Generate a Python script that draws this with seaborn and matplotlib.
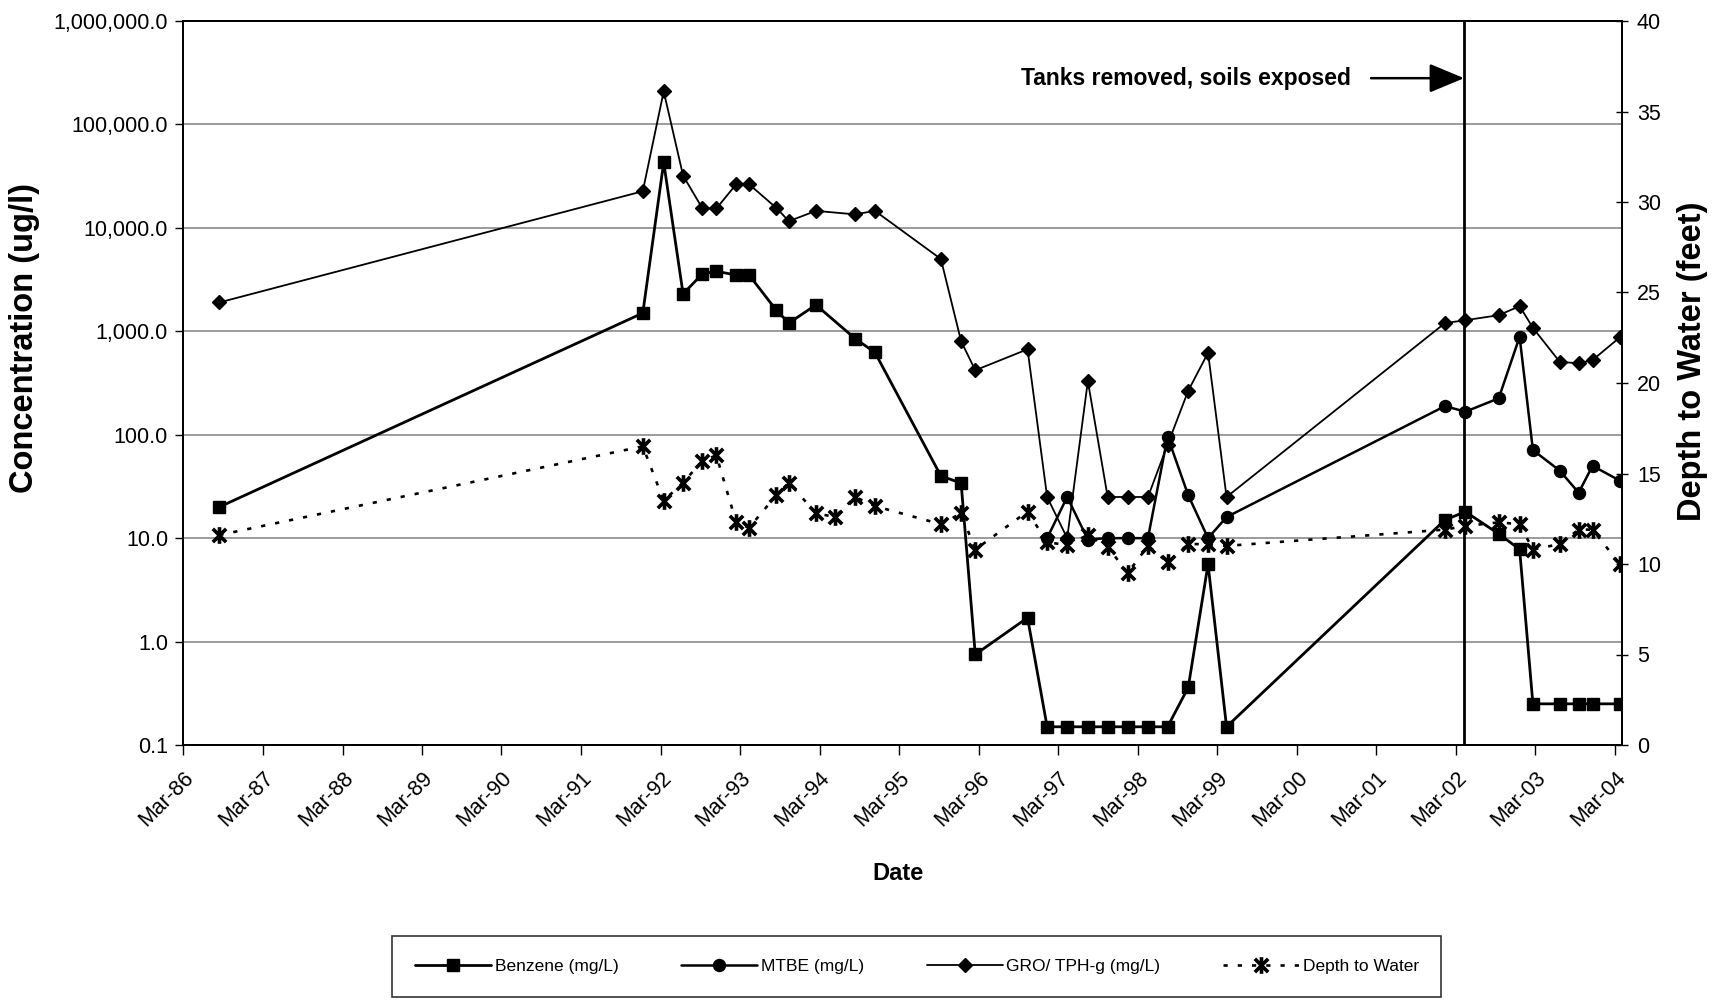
import numpy as np
import pandas as pd
import matplotlib
matplotlib.use("Agg")
import matplotlib.pyplot as plt
import matplotlib.dates as mdates
from matplotlib.ticker import FuncFormatter, FixedLocator, NullLocator
from matplotlib.path import Path
import seaborn as sns

# ---------------- data ----------------
sample_dates = [
    "1986-08-13", "1991-12-10", "1992-03-15", "1992-06-12", "1992-09-09", "1992-11-12",
    "1993-02-11", "1993-04-11", "1993-08-14", "1993-10-11", "1994-02-12", "1994-05-10",
    "1994-08-11", "1994-11-10", "1995-09-09", "1995-12-11", "1996-02-14", "1996-10-11",
    "1997-01-09", "1997-04-11", "1997-07-15", "1997-10-14", "1998-01-14", "1998-04-17",
    "1998-07-16", "1998-10-19", "1999-01-18", "1999-04-13", "2002-01-10", "2002-04-14",
    "2002-09-14", "2002-12-19", "2003-02-18", "2003-06-21", "2003-09-16", "2003-11-19",
    "2004-03-23",
]
nan = np.nan
benzene = [20, 1500, 43000, 2300, 3600, 3800,
           3500, 3500, 1600, 1200, 1800, nan,
           850, 625, 40, 34, 0.75, 1.7,
           0.15, 0.15, 0.15, 0.15, 0.15, 0.15,
           0.15, 0.36, 5.6, 0.15, 15, 18,
           11, 7.8, 0.25, 0.25, 0.25, 0.25,
           0.25]
mtbe = [nan, nan, nan, nan, nan, nan,
        nan, nan, nan, nan, nan, nan,
        nan, nan, nan, nan, nan, nan,
        10, 25, 9.7, 10, 10, 10,
        96, 26, 10, 16, 189, 167,
        225, 885, 71, 45, 27.5, 50,
        36]
gro = [1900, 22600, 209000, 32000, 15400, 15400,
       26400, 26400, 15600, 11600, 14600, nan,
       13500, 14600, 5000, 800, 420, 670,
       25, 10, 330, 25, 25, 25,
       80, 266, 620, 25, 1200, 1280,
       1430, 1750, 1080, 507, 490, 527,
       873]
depth = [11.6, 16.5, 13.5, 14.5, 15.7, 16.0,
         12.3, 12.0, 13.8, 14.5, 12.8, 12.6,
         13.7, 13.2, 12.2, 12.8, 10.8, 12.9,
         11.2, 11.05, 11.6, 10.95, 9.5, 11.0,
         10.1, 11.1, 11.1, 11.0, 11.9, 12.1,
         12.3, 12.2, 10.8, 11.1, 11.9, 11.9,
         10.0]

series_names = ["Benzene (mg/L)", "MTBE (mg/L)", "GRO/ TPH-g (mg/L)", "Depth to Water"]
conc_ticks = [0.1, 1, 10, 100, 1000, 10000, 100000, 1000000]
depth_ticks = [0, 5, 10, 15, 20, 25, 30, 35, 40]
tanks_removed_date = "2002-04-08"
annotation_text = "Tanks removed, soils exposed"
x_start, x_end = "1986-03-01", "2004-04-04"

# ---------------- styling ----------------
sns.set_style("white")
plt.rcParams["font.family"] = ["Liberation Sans", "DejaVu Sans"]
for k in ("text.color", "axes.labelcolor", "xtick.color", "ytick.color"):
    plt.rcParams[k] = "black"

df = pd.DataFrame({
    "date": pd.to_datetime(sample_dates),
    series_names[0]: benzene,
    series_names[1]: mtbe,
    series_names[2]: gro,
    series_names[3]: depth,
})

fig = plt.figure(figsize=(17.17, 10), dpi=100)
ax = fig.add_axes([0.1068, 0.255, 0.8381, 0.724])
ax2 = ax.twinx()

star = Path([(-1, -1), (1, 1), (-1, 1), (1, -1), (0, -1.25), (0, 1.25)],
            [Path.MOVETO, Path.LINETO, Path.MOVETO, Path.LINETO, Path.MOVETO, Path.LINETO])

styles = {
    series_names[0]: dict(marker="s", markersize=11.5, linewidth=2.0, linestyle="-"),
    series_names[1]: dict(marker="o", markersize=11.5, linewidth=1.8, linestyle="-"),
    series_names[2]: dict(marker="D", markersize=9, linewidth=1.3, linestyle="-"),
}

for name in series_names[:3]:
    sub = df[["date", name]].dropna()
    sns.lineplot(data=sub, x="date", y=name, ax=ax, color="black",
                 markeredgecolor="black", markerfacecolor="black", markeredgewidth=1,
                 estimator=None, sort=False, label=name, legend=False, **styles[name])

sub = df[["date", series_names[3]]].dropna()
sns.lineplot(data=sub, x="date", y=series_names[3], ax=ax2, color="black",
             marker=star, markersize=16, markeredgewidth=2.6, markeredgecolor="black",
             linewidth=1.9, linestyle=(0, (1.6, 3.8)), estimator=None, sort=False,
             label=series_names[3], legend=False)

# left axis (log concentration)
ax.set_yscale("log")
ax.set_ylim(conc_ticks[0], conc_ticks[-1])
ax.yaxis.set_major_locator(FixedLocator(conc_ticks))
ax.yaxis.set_minor_locator(NullLocator())
ax.yaxis.set_major_formatter(FuncFormatter(lambda v, p: f"{v:,.1f}"))
ax.grid(axis="y", color="#808080", linewidth=1.1)
ax.grid(axis="x", visible=False)
ax.set_xlim(pd.Timestamp(x_start), pd.Timestamp(x_end))
ax.xaxis.set_major_locator(mdates.YearLocator(1, month=3, day=1))
ax.xaxis.set_major_formatter(mdates.DateFormatter("%b-%y"))
ax.set_xlabel("")
ax.set_ylabel("")
ax.tick_params(axis="y", which="major", direction="out", length=6, width=1,
               labelsize=15.5, pad=5, left=True)
ax.tick_params(axis="x", which="major", direction="out", length=7, width=1,
               labelsize=15.5, pad=9, bottom=True)
for lbl in ax.get_xticklabels():
    lbl.set_rotation(45)
    lbl.set_ha("right")
    lbl.set_rotation_mode("anchor")

# right axis (depth)
ax2.set_ylim(depth_ticks[0], depth_ticks[-1])
ax2.yaxis.set_major_locator(FixedLocator(depth_ticks))
ax2.set_ylabel("")
ax2.tick_params(axis="y", direction="inout", length=9, width=1, labelsize=15.5, pad=6, right=True)
ax2.grid(False)

for a in (ax, ax2):
    for s in a.spines.values():
        s.set_visible(True)
        s.set_color("black")
        s.set_linewidth(1.3)

# event line + annotation
t_date = pd.Timestamp(tanks_removed_date)
ax.axvline(t_date, color="black", linewidth=2, zorder=1)
ax.annotate(annotation_text, xy=(t_date, 2.8e5), xytext=(pd.Timestamp("2000-11-05"), 2.8e5),
            ha="right", va="center", fontsize=16.5, fontweight="bold",
            arrowprops=dict(arrowstyle="-|>,head_length=1.2,head_width=0.5", color="black",
                            lw=1.8, mutation_scale=18, shrinkA=12, shrinkB=0))

# axis titles
fig.text(0.014, 0.662, "Concentration (ug/l)", rotation=90, ha="center", va="center",
         fontsize=23.5, fontweight="bold")
fig.text(0.986, 0.639, "Depth to Water (feet)", rotation=90, ha="center", va="center",
         fontsize=23.5, fontweight="bold")
fig.text(0.523, 0.127, "Date", ha="center", va="center", fontsize=17, fontweight="bold")

# legend
h1, l1 = ax.get_legend_handles_labels()
h2, l2 = ax2.get_legend_handles_labels()
for h in h1 + h2:
    h.set_markersize(h.get_markersize() * 0.75)
leg = fig.legend(h1 + h2, l1 + l2, loc="center", bbox_to_anchor=(0.534, 0.0335), ncol=4,
                 frameon=True, fancybox=False, edgecolor="black", fontsize=12.5,
                 handlelength=4.4, columnspacing=3.6, borderpad=1.3, handletextpad=0.2)
leg.get_frame().set_linewidth(1.2)

fig.savefig("out.png", dpi=100)
